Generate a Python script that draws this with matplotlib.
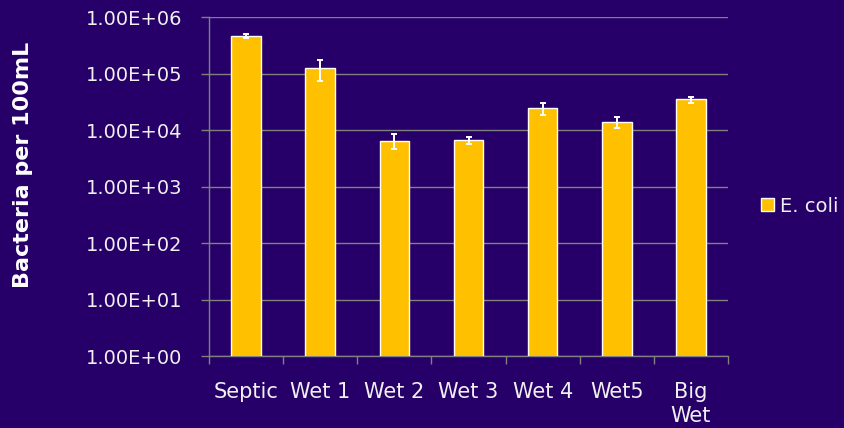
import matplotlib
matplotlib.use("Agg")
import matplotlib.pyplot as plt
import numpy as np
from matplotlib.ticker import FixedLocator, FuncFormatter


SITES = ["Septic", "Wet 1", "Wet 2", "Wet 3", "Wet 4", "Wet5", "Big\nWet"]

ECOLI = [4.7e5, 1.25e5, 6.5e3, 6.6e3, 2.45e4, 1.40e4, 3.5e4]

ECOLI_ERR = [4.0e4, 5.0e4, 1.9e3, 0.9e3, 6.0e3, 3.2e3, 4.5e3]

DECADES = [1e0, 1e1, 1e2, 1e3, 1e4, 1e5, 1e6]


BG = "#260068"
BAR = "#FFC000"
GRID = "#808080"
TXT = "#F0F0F0"


fig = plt.figure(figsize=(8.44, 4.28), dpi=100, facecolor=BG)

ax = fig.add_axes([0.2476, 0.1682, 0.8626 - 0.2476, 0.9596 - 0.1682])

ax.set_facecolor(BG)

x = np.arange(len(SITES))

ax.bar(
    x,
    ECOLI,
    width=0.4,
    color=BAR,
    edgecolor="white",
    linewidth=1,
    label="E. coli",
    zorder=3
)

ax.errorbar(
    x,
    ECOLI,
    yerr=ECOLI_ERR,
    fmt="none",
    ecolor="white",
    elinewidth=1.4,
    capsize=2.5,
    capthick=1.4,
    zorder=4
)

ax.set_yscale("log")
ax.set_ylim(1, 1e6)
ax.set_xlim(-0.5, len(SITES) - 0.5)

ax.yaxis.set_major_locator(FixedLocator(DECADES))
ax.yaxis.set_minor_locator(FixedLocator([]))
ax.yaxis.set_major_formatter(FuncFormatter(lambda v, p: f"{v:.2E}"))

ax.grid(axis="y", color=GRID, linewidth=1, zorder=0)

# category labels centred, ticks on the boundaries
ax.set_xticks(x)
ax.set_xticklabels(SITES, color=TXT, fontsize=15, linespacing=1.2)
ax.tick_params(axis="x", length=0, pad=19)
ax.set_xticks(np.arange(len(SITES) + 1) - 0.5, minor=True)
ax.tick_params(axis="x", which="minor", length=6, color=GRID, width=1)

ax.tick_params(axis="y", colors=GRID, labelcolor=TXT, labelsize=14,
               length=6, width=1, pad=13)

for side in ["top", "right"]:
    ax.spines[side].set_visible(False)

for side in ["left", "bottom"]:
    ax.spines[side].set_color(GRID)
    ax.spines[side].set_linewidth(1)

fig.text(
    0.027,
    0.614,
    "Bacteria per 100mL",
    rotation=90,
    ha="center",
    va="center",
    color="white",
    fontsize=16,
    fontweight="bold"
)

fig.legend(
    loc="center left",
    bbox_to_anchor=(0.893, 0.518),
    frameon=False,
    fontsize=14,
    labelcolor=TXT,
    handlelength=0.65,
    handleheight=0.65,
    handletextpad=0.3,
    borderaxespad=0
)

fig.savefig("out.png", dpi=100, facecolor=BG)
